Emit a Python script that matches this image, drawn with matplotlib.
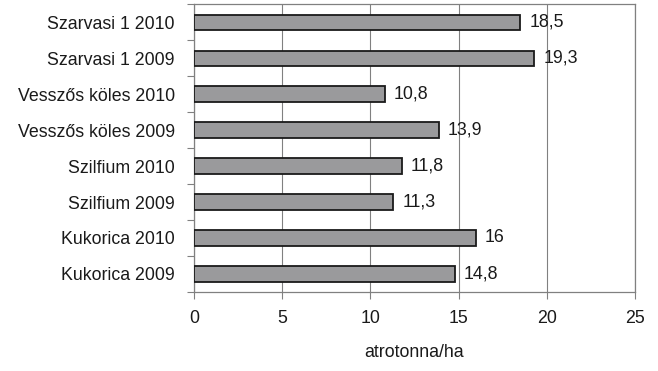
import numpy as np
import matplotlib.pyplot as plt
from matplotlib.ticker import FixedLocator

# data, bottom to top
labels = ["Kukorica 2009", "Kukorica 2010", "Szilfium 2009", "Szilfium 2010",
          "Vesszős köles 2009", "Vesszős köles 2010", "Szarvasi 1 2009", "Szarvasi 1 2010"]
values = [14.8, 16, 11.3, 11.8, 13.9, 10.8, 19.3, 18.5]
value_text = ["14,8", "16", "11,3", "11,8", "13,9", "10,8", "19,3", "18,5"]
xticks = [0, 5, 10, 15, 20, 25]

plt.rcParams["font.family"] = ["Liberation Sans", "DejaVu Sans"]
plt.rcParams["font.size"] = 12.8

fig = plt.figure(figsize=(6.58, 3.71), dpi=100)
ax = fig.add_axes([0.295, 0.213, 0.67, 0.776])

y = np.arange(len(labels))
ax.barh(y, values, height=0.42, color="#9a9a9c", edgecolor="#1a1a1a", linewidth=1.3, zorder=3)
for yi, v, t in zip(y, values, value_text):
    ax.text(v + 0.5, yi, t, va="center", ha="left", color="#1a1a1a")

ax.set_xlim(0, 25)
ax.set_ylim(-0.5, len(labels) - 0.5)
ax.set_xticks(xticks)
ax.set_xticklabels([str(t) for t in xticks])
ax.set_yticks(y)
ax.set_yticklabels(labels)
ax.yaxis.set_minor_locator(FixedLocator(np.arange(-0.5, len(labels), 1.0)))
ax.tick_params(axis="y", which="major", length=0, pad=14, colors="#1a1a1a")
ax.tick_params(axis="y", which="minor", length=5, color="#808080", width=0.8)
ax.tick_params(axis="x", length=5, color="#808080", width=0.8, pad=8, labelcolor="#1a1a1a")

ax.grid(axis="x", color="#808080", linewidth=0.8, zorder=0)
for s in ax.spines.values():
    s.set_color("#808080")
    s.set_linewidth(0.9)

ax.set_xlabel("atrotonna/ha", labelpad=12, color="#1a1a1a")

fig.savefig("out.png", dpi=100)
